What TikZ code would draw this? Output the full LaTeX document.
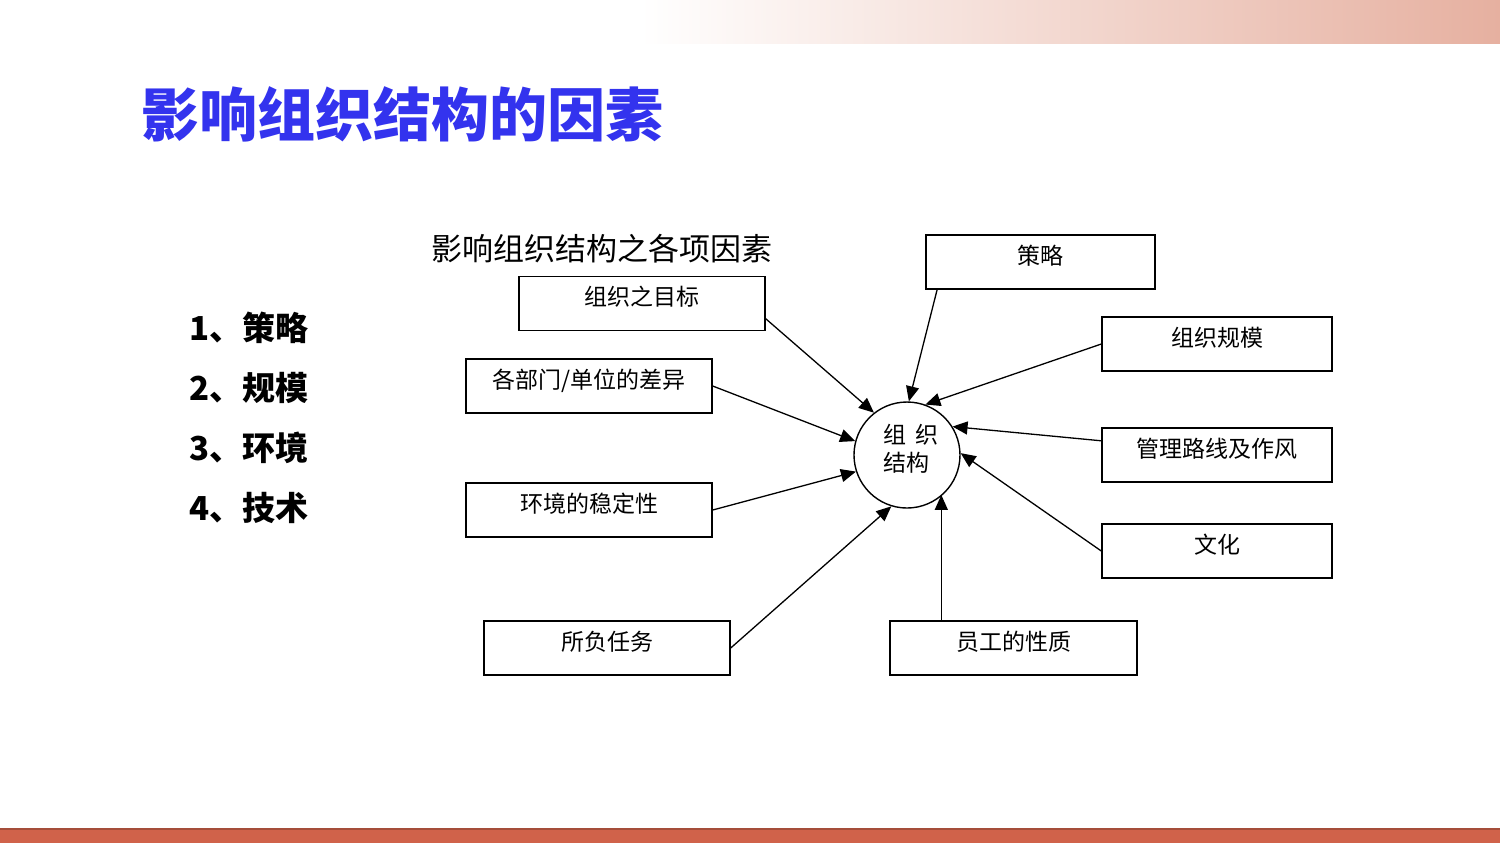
\documentclass[tikz,border=0pt]{standalone}
\usepackage{fontspec}
\setmainfont{Noto Sans CJK SC}
\usetikzlibrary{arrows.meta}
\definecolor{titleblue}{RGB}{51,51,238}
\definecolor{barred}{RGB}{208,98,74}
\definecolor{barline}{RGB}{165,78,58}
\definecolor{gradend}{RGB}{230,176,160}
\tikzset{
  fbox/.style={draw=black,line width=0.7pt,minimum height=27pt,inner sep=0pt,
    font=\fontsize{11.5pt}{14pt}\selectfont,text height=0.8em,text depth=0.56em},
  arr/.style={draw=black,line width=0.65pt,-{Triangle[length=7.5pt,width=6.5pt]}},
  listitem/.style={anchor=west,inner sep=0pt,font=\fontsize{16.5pt}{20pt}\selectfont\bfseries}
}
\begin{document}
\begin{tikzpicture}[x=0.5pt,y=-0.5pt]
\useasboundingbox (0,0) rectangle (1500,843);
\fill[white] (0,0) rectangle (1500,843);
% top gradient bar
\shade[left color=white,right color=gradend] (640,0) rectangle (1500,43);
% bottom bar
\fill[barred] (0,829) rectangle (1500,843);
\draw[barline,line width=0.6pt] (0,829) -- (1500,829);
% title
\node[anchor=west,inner sep=0pt,text=titleblue,font=\fontsize{29pt}{34pt}\selectfont\bfseries] (title) at (141,114) {影响组织结构的因素};
% list
\node[listitem] (l1) at (189,328) {1、策略};
\node[listitem] (l2) at (189,388) {2、规模};
\node[listitem] (l3) at (189,448) {3、环境};
\node[listitem] (l4) at (189,508) {4、技术};
% diagram heading
\node[anchor=west,inner sep=0pt,font=\fontsize{15.5pt}{18pt}\selectfont] (head) at (431,249) {影响组织结构之各项因素};
% central circle
\node[circle,draw=black,line width=0.7pt,minimum size=53pt,inner sep=0pt] (c) at (907,455) {};
\node[align=left,inner sep=0pt,font=\fontsize{11.5pt}{14pt}\selectfont] (ct) at (911,449) {组\hspace{0.35em}织\\结构};
% boxes
\node[fbox,minimum width=114.5pt] (b9) at (1040.5,262) {策略};
\node[fbox,minimum width=123pt] (b1) at (642,303.5) {组织之目标};
\node[fbox,minimum width=115pt] (b8) at (1217,344) {组织规模};
\node[fbox,minimum width=123pt] (b2) at (589,386) {各部门/单位的差异};
\node[fbox,minimum width=115pt] (b7) at (1217,455) {管理路线及作风};
\node[fbox,minimum width=123pt] (b3) at (589,510) {环境的稳定性};
\node[fbox,minimum width=115pt] (b6) at (1217,551) {文化};
\node[fbox,minimum width=123pt] (b4) at (607,648) {所负任务};
\node[fbox,minimum width=123.5pt] (b5) at (1013.5,648) {员工的性质};
% arrows
\draw[arr] (b1.-7) -- (c.128);
\draw[arr] (b2.east) -- (c.165);
\draw[arr] (b3.east) -- (c.198);
\draw[arr] (b4.east) -- (c.253);
\draw[arr] (b5.159) -- (b5.159 |- c.-48);
\draw[arr] (b6.west) -- (c.2);
\draw[arr] (b7.173) -- (c.32);
\draw[arr] (b8.west) -- (c.70);
\draw[arr] (b9.195) -- (c.88);
\end{tikzpicture}
\end{document}
